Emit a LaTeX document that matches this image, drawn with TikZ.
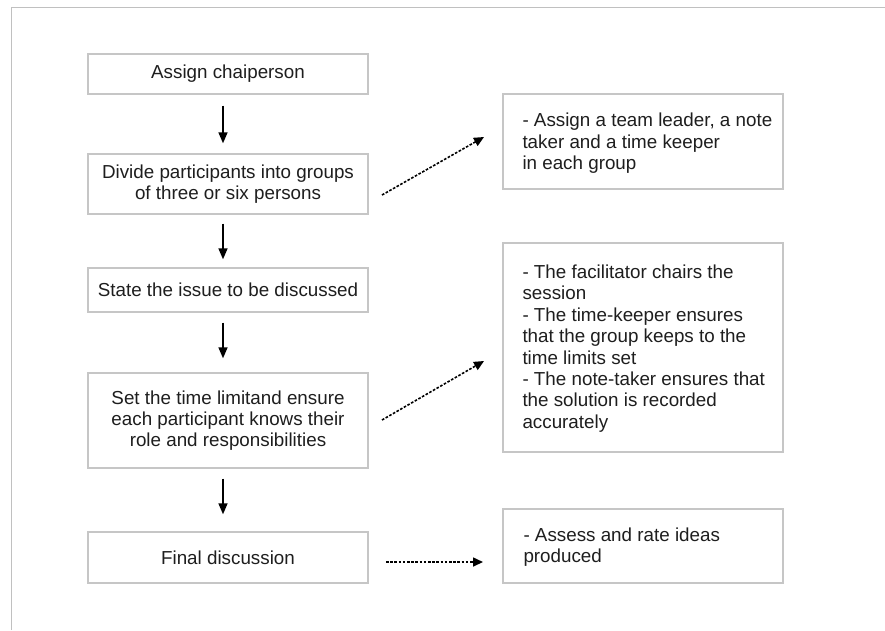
\documentclass[tikz,border=0pt]{standalone}
\usepackage{fontspec}
\setmainfont{Liberation Sans}
\usetikzlibrary{arrows.meta}
\definecolor{boxline}{HTML}{C6C6C6}
\definecolor{frameline}{HTML}{C0C0C0}
\definecolor{txt}{HTML}{1E1E1E}
\tikzset{
  leftbox/.style={draw=boxline, line width=1.4pt, minimum width=280pt, inner sep=0pt,
    align=center, text=txt, font=\fontsize{18.8}{21}\selectfont},
  rightbox/.style={draw=boxline, line width=1.4pt, minimum width=280pt, inner sep=0pt},
  righttext/.style={anchor=west, inner sep=0pt, align=left, text=txt,
    font=\fontsize{18.8}{21.4}\selectfont},
  flow/.style={line width=1.5pt, -{Triangle[length=11pt,width=9pt]}},
  dotflow/.style={line width=1.6pt, dash pattern=on 2.6pt off 1.6pt, -{Triangle[length=10pt,width=9pt]}}
}
\begin{document}
\begin{tikzpicture}[x=1pt,y=-1pt]
\useasboundingbox (0,0) rectangle (885,630);
\fill[white] (0,0) rectangle (885,630);
\draw[frameline, line width=1pt] (11.5,630) -- (11.5,7.5) -- (885,7.5);

% left column
\node[leftbox, minimum height=40pt] (b1) at (228,74) {Assign chaiperson};
\node[leftbox, minimum height=60pt] (b2) at (228,184) {Divide participants into groups\\of three or six persons};
\node[leftbox, minimum height=44pt] (b3) at (228,290) {State the issue to be discussed};
\node[leftbox, minimum height=95pt] (b4) at (228,420.5) {Set the time limitand ensure\\each participant knows their\\role and responsibilities};
\node[leftbox, minimum height=51pt] (b5) at (228,557.5) {Final discussion};

% right column
\node[rightbox, minimum height=95pt] (r1) at (643,141.5) {};
\node[righttext] (r1t) at ([xshift=20pt,yshift=-2pt]r1.west) {- Assign a team leader, a note\\taker and a time keeper\\in each group};
\node[rightbox, minimum height=209pt] (r2) at (643,347.5) {};
\node[righttext] (r2t) at ([xshift=20pt,yshift=-1pt]r2.west) {- The facilitator chairs the\\session\\- The time-keeper ensures\\that the group keeps to the\\time limits set\\- The note-taker ensures that\\the solution is recorded\\accurately};
\node[rightbox, minimum height=74pt] (r3) at (643,546) {};
\node[righttext] (r3t) at ([xshift=21pt,yshift=-1pt]r3.west) {- Assess and rate ideas\\produced};

% solid arrows
\draw[flow, shorten <=11pt, shorten >=10pt] ([xshift=-5pt]b1.south) -- ([xshift=-5pt]b2.north);
\draw[flow, shorten <=9pt, shorten >=8pt] ([xshift=-5pt]b2.south) -- ([xshift=-5pt]b3.north);
\draw[flow, shorten <=10pt, shorten >=14pt] ([xshift=-5pt]b3.south) -- ([xshift=-5pt]b4.north);
\draw[flow, shorten <=10pt, shorten >=17pt] ([xshift=-5pt]b4.south) -- ([xshift=-5pt]b5.north);

% dotted arrows
\coordinate (a1s) at (382,195);
\coordinate (a1e) at (484,137);
\coordinate (a2s) at (382,420);
\coordinate (a2e) at (484,361);
\coordinate (a3s) at (386,562);
\coordinate (a3e) at (483,562);
\draw[dotflow] (a1s) -- (a1e);
\draw[dotflow] (a2s) -- (a2e);
\draw[dotflow] (a3s) -- (a3e);
\end{tikzpicture}
\end{document}
